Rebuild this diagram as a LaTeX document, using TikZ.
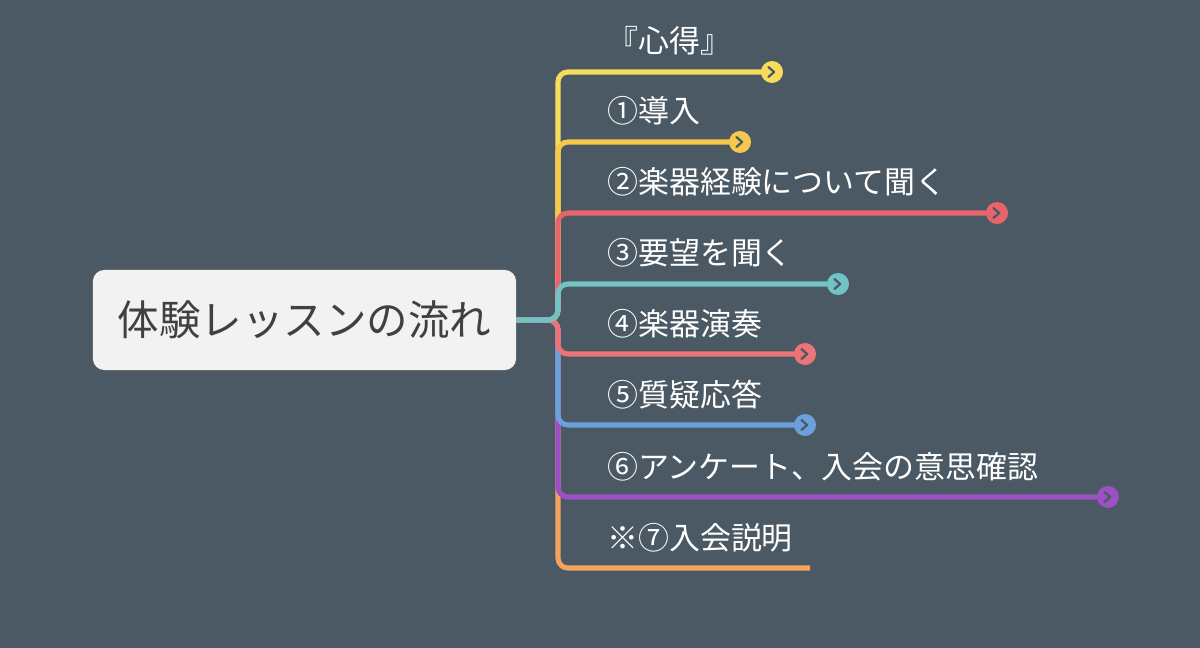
\documentclass[tikz,border=0pt]{standalone}
\usepackage{fontspec}
\setmainfont{Noto Sans CJK JP}
\usetikzlibrary{positioning}
\definecolor{bg}{HTML}{4A5963}
\definecolor{cyellow}{HTML}{F7DC5C}
\definecolor{corange}{HTML}{F5C84C}
\definecolor{cred}{HTML}{E8646B}
\definecolor{cteal}{HTML}{72C3C6}
\definecolor{cpink}{HTML}{EC7479}
\definecolor{cblue}{HTML}{6CA0DA}
\definecolor{cpurple}{HTML}{9C50C4}
\definecolor{clast}{HTML}{F3A35E}
\tikzset{
  branch/.style={line width=3.6pt, rounded corners=7pt},
  tip/.style={circle, fill=#1, minimum size=0.55cm, inner sep=0pt},
  label/.style={anchor=base west, text=white, font=\fontsize{22}{24}\selectfont, inner sep=0pt}
}
\begin{document}
\begin{tikzpicture}[x=0.025cm, y=-0.025cm]
\fill[bg] (0,0) rectangle (1200,648);
\useasboundingbox (0,0) rectangle (1200,648);

\node[fill=white!95!black, rounded corners=8pt, minimum width=10.575cm, minimum height=2.5cm,
      font=\fontsize{29.5}{32}\selectfont, text=black!75] (root) at (304.5,320) {体験レッスンの流れ};
\coordinate (trunk) at (558,320);

% last branch first, so the others lie on top of it
\coordinate (e8) at (810,568);
\draw[clast, branch] (root.east) -- (trunk) |- (e8);
\node[label] (t8) at (607,568-19) {※⑦入会説明};

\foreach \txt/\yy/\xe/\col [count=\s] in {%
  『心得』/72/772/cyellow,
  ①導入/142/740/corange,
  ②楽器経験について聞く/213/997/cred,
  ⑥アンケート、入会の意思確認/497/1108/cpurple,
  ⑤質疑応答/425/805/cblue,
  ④楽器演奏/354/805/cpink,
  ③要望を聞く/284/838/cteal}
{
  \node[tip=\col] (e\s) at (\xe,\yy) {};
  \draw[\col, branch] (root.east) -- (trunk) |- (e\s.center);
  \draw[bg, line width=1.6pt, line cap=round, line join=round]
    ([xshift=-2.5pt,yshift=3.5pt]e\s.center) -- ([xshift=1.5pt]e\s.center) -- ([xshift=-2.5pt,yshift=-3.5pt]e\s.center);
  \node[label] (t\s) at (607,\yy-19) {\txt};
}
\end{tikzpicture}
\end{document}
